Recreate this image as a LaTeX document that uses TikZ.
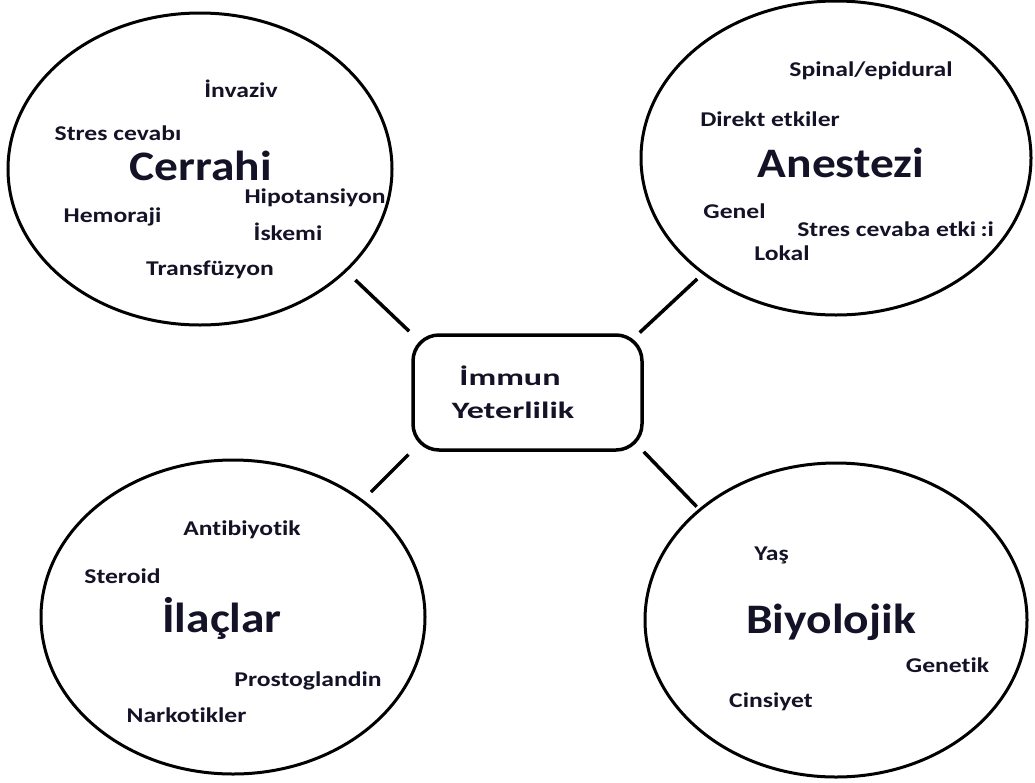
\documentclass[tikz,border=0pt]{standalone}
\usepackage{fontspec}
\setmainfont{Carlito}[Ligatures={NoCommon,NoDiscretionary,NoContextual}]
\usetikzlibrary{shapes.geometric}
\definecolor{ink}{RGB}{20,18,38}
\tikzset{
  topic/.style={ellipse, draw=black, line width=3pt, inner sep=0pt},
  title/.style={font=\bfseries\fontsize{42}{46}\selectfont, text=ink, xscale=1.13, anchor=base, inner sep=0pt},
  item/.style={font=\bfseries\fontsize{21}{24}\selectfont, text=ink, xscale=1.22, anchor=base, inner sep=0pt},
  hubtext/.style={font=\bfseries\fontsize{23.5}{26}\selectfont, text=ink, xscale=1.45, anchor=base, inner sep=0pt},
  hub/.style={draw=black, rounded corners=26pt, line width=3.5pt, minimum width=229pt, minimum height=115pt, inner sep=0pt},
  link/.style={line width=3.5pt, draw=black},
}
\begin{document}
\begin{tikzpicture}[x=1pt,y=-1pt]
\useasboundingbox (0,0) rectangle (1035,782);

% topic ellipses
\node[topic, minimum width=384pt, minimum height=312pt] (cer) at (200,169) {};
\node[topic, minimum width=390pt, minimum height=314pt] (ane) at (836,158) {};
\node[topic, minimum width=384pt, minimum height=314pt] (ila) at (233,617) {};
\node[topic, minimum width=382pt, minimum height=314pt] (biy) at (836,620) {};

% centre box
\node[hub] (box) at (527.5,392.5) {};
\node[hubtext] (hubA) at (510,385) {İmmun};
\node[hubtext] (hubB) at (513,418) {Yeterlilik};

% connectors
\draw[link, shorten <=12pt, shorten >=3pt] (cer.-35) -- (box.north west);
\draw[link, shorten <=7pt, shorten >=1pt] (ane.-139.6) -- (box.28);
\draw[link, shorten <=11pt, shorten >=4pt] (ila.42) -- (box.south west);
\draw[link, shorten <=3pt] (biy.141.3) -- (box.-27.7);

% Cerrahi
\node[title] (cerT) at (201,180) {Cerrahi};
\node[item] (c1) at (241,97.7) {İnvaziv};
\node[item] (c2) at (118,140.7) {Stres cevabı};
\node[item] (c3) at (315,203) {Hipotansiyon};
\node[item] (c4) at (112.5,222.7) {Hemoraji};
\node[item] (c5) at (288,240.7) {İskemi};
\node[item] (c6) at (210,275) {Transfüzyon};

% Anestezi
\node[title] (aneT) at (841,177) {Anestezi};
\node[item] (a1) at (871,76) {Spinal/epidural};
\node[item] (a2) at (770,126.7) {Direkt etkiler};
\node[item] (a3) at (734.5,218) {Genel};
\node[item, anchor=base west] (a4) at (797,236.7) {Stres cevaba etki\,:i};
\node[item] (a5) at (782,260) {Lokal};

% Ilaclar
\node[title] (ilaT) at (222,632) {İlaçlar};
\node[item] (i1) at (242,535) {Antibiyotik};
\node[item] (i2) at (122.5,583.3) {Steroid};
\node[item] (i3) at (308,686.7) {Prostoglandin};
\node[item] (i4) at (186.5,722.7) {Narkotikler};

% Biyolojik
\node[title] (biyT) at (831,633) {Biyolojik};
\node[item] (b1) at (771.5,560.7) {Yaş};
\node[item] (b2) at (947.5,672.7) {Genetik};
\node[item] (b3) at (771,707.7) {Cinsiyet};
\end{tikzpicture}
\end{document}
